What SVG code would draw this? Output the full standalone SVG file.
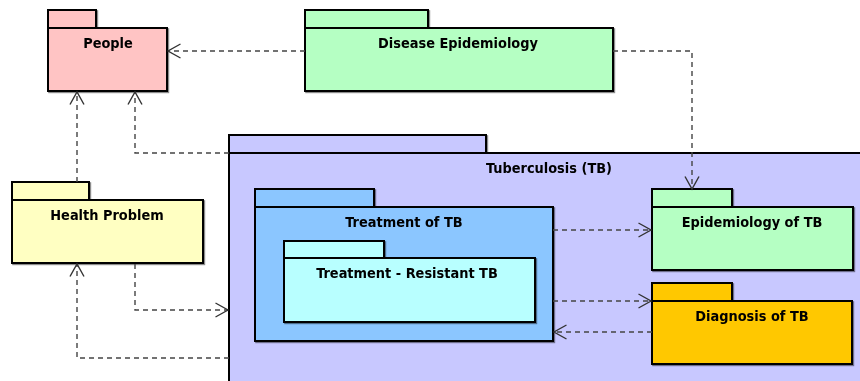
<svg xmlns="http://www.w3.org/2000/svg" width="860" height="381" viewBox="0 0 860 381">
  <style>
    .pkg { stroke: #000; stroke-width: 2; }
    .title { font-family: "DejaVu Sans Condensed", "DejaVu Sans", Verdana, sans-serif; font-stretch: condensed; font-size: 14.4px; font-weight: bold; fill: #000; text-anchor: middle; }
    .dep { fill: none; stroke: #444; stroke-width: 1.4; stroke-dasharray: 5 4; }
    .people { fill: #FFC4C4; }
    .green { fill: #B5FFC3; }
    .lav { fill: #C8C8FF; }
    .blue { fill: #8BC6FF; }
    .cyan { fill: #B8FFFF; }
    .yellow { fill: #FFFFC2; }
    .orange { fill: #FFC800; }
  </style>
  <defs>
    <filter id="shadow" x="-5%" y="-5%" width="110%" height="110%">
      <feDropShadow dx="1.2" dy="1.2" stdDeviation="0.6" flood-color="#000" flood-opacity="0.45"/>
    </filter>
    <!-- open arrowhead for dependencies -->
    <marker id="open" viewBox="0 0 16 16" refX="14" refY="8" markerWidth="16" markerHeight="16" markerUnits="userSpaceOnUse" orient="auto">
      <path d="M1.5,1 L14,8 L1.5,15" fill="none" stroke="#333" stroke-width="1.4"/>
    </marker>
  </defs>

  <!-- Tuberculosis (container) -->
  <g id="tuberculosis" filter="url(#shadow)">
    <rect class="pkg lav" x="229" y="135" width="257" height="18"/>
    <rect class="pkg lav" x="229" y="153" width="640" height="240"/>
    <text class="title" x="549" y="173">Tuberculosis (TB)</text>
  </g>

  <!-- Treatment of TB -->
  <g id="treatment" filter="url(#shadow)">
    <rect class="pkg blue" x="255" y="189" width="119" height="18"/>
    <rect class="pkg blue" x="255" y="207" width="298" height="134"/>
    <text class="title" x="404" y="227">Treatment of TB</text>
  </g>

  <!-- Treatment - Resistant TB -->
  <g id="resistant" filter="url(#shadow)">
    <rect class="pkg cyan" x="284" y="241" width="100" height="17"/>
    <rect class="pkg cyan" x="284" y="258" width="251" height="64"/>
    <text class="title" x="407" y="278">Treatment - Resistant TB</text>
  </g>

  <!-- Epidemiology of TB -->
  <g id="epidemiology-tb" filter="url(#shadow)">
    <rect class="pkg green" x="652" y="189" width="80" height="18"/>
    <rect class="pkg green" x="652" y="207" width="201" height="63"/>
    <text class="title" x="752" y="227">Epidemiology of TB</text>
  </g>

  <!-- Diagnosis of TB -->
  <g id="diagnosis-tb" filter="url(#shadow)">
    <rect class="pkg orange" x="652" y="283" width="80" height="18"/>
    <rect class="pkg orange" x="652" y="301" width="200" height="63"/>
    <text class="title" x="752" y="321">Diagnosis of TB</text>
  </g>

  <!-- People -->
  <g id="people" filter="url(#shadow)">
    <rect class="pkg people" x="48" y="10" width="48" height="18"/>
    <rect class="pkg people" x="48" y="28" width="119" height="63"/>
    <text class="title" x="108" y="48">People</text>
  </g>

  <!-- Disease Epidemiology -->
  <g id="disease-epidemiology" filter="url(#shadow)">
    <rect class="pkg green" x="305" y="10" width="123" height="18"/>
    <rect class="pkg green" x="305" y="28" width="308" height="63"/>
    <text class="title" x="458" y="48">Disease Epidemiology</text>
  </g>

  <!-- Health Problem -->
  <g id="health-problem" filter="url(#shadow)">
    <rect class="pkg yellow" x="12" y="182" width="77" height="18"/>
    <rect class="pkg yellow" x="12" y="200" width="191" height="63"/>
    <text class="title" x="107" y="220">Health Problem</text>
  </g>

  <!-- Dependencies -->
  <g id="connectors">
    <path class="dep" d="M305,51 H168" marker-end="url(#open)"/>
    <path class="dep" d="M613,51 H692 V189" marker-end="url(#open)"/>
    <path class="dep" d="M77,182 V92" marker-end="url(#open)"/>
    <path class="dep" d="M229,153 H135 V92" marker-end="url(#open)"/>
    <path class="dep" d="M135,264 V310 H228" marker-end="url(#open)"/>
    <path class="dep" d="M229,358 H77 V264" marker-end="url(#open)"/>
    <path class="dep" d="M553,230 H651" marker-end="url(#open)"/>
    <path class="dep" d="M553,301 H651" marker-end="url(#open)"/>
    <path class="dep" d="M652,332 H554" marker-end="url(#open)"/>
  </g>
</svg>
